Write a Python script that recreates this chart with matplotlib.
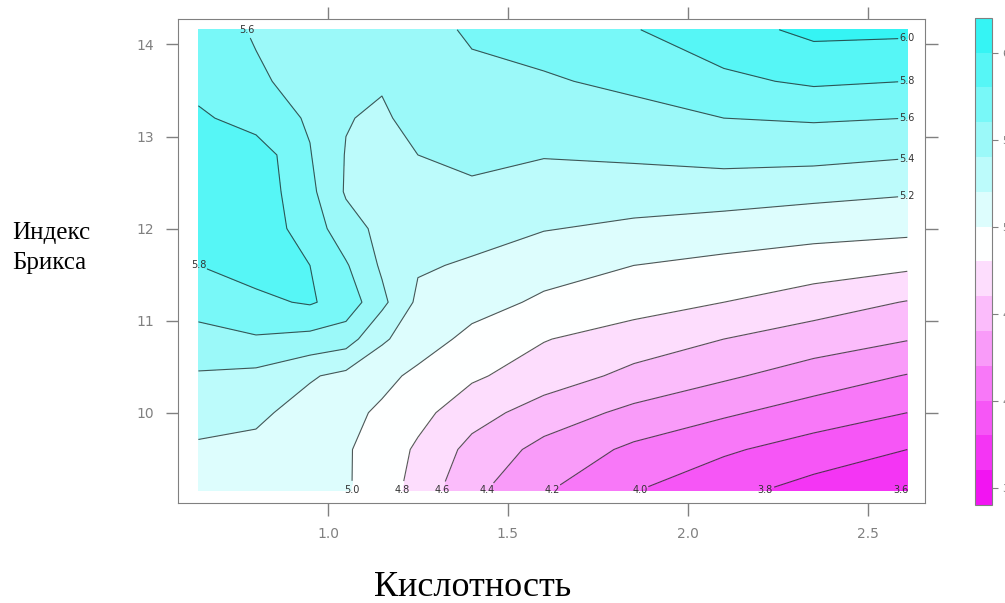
import numpy as np
import matplotlib
matplotlib.use("Agg")
import matplotlib.pyplot as plt
from matplotlib.colors import LinearSegmentedColormap

# grid: acidity (x), Brix index (y), score (z)
acidity = [0.64, 0.8, 0.95, 1.05, 1.15, 1.25, 1.4, 1.6, 1.85, 2.1, 2.35, 2.61]
brix = [9.16, 9.6, 10.0, 10.4, 10.8, 11.2, 11.6, 12.0, 12.4, 12.8, 13.2, 13.6, 14.16]
score = [
    [5.12, 5.10, 5.07, 5.02, 4.90, 4.72, 4.45, 4.22, 4.01, 3.86, 3.73, 3.59],
    [5.17, 5.15, 5.10, 5.02, 4.91, 4.77, 4.54, 4.34, 4.16, 4.03, 3.91, 3.80],
    [5.28, 5.24, 5.12, 5.05, 4.97, 4.86, 4.68, 4.51, 4.35, 4.23, 4.11, 4.00],
    [5.38, 5.35, 5.22, 5.15, 5.05, 4.96, 4.83, 4.70, 4.55, 4.43, 4.31, 4.19],
    [5.53, 5.58, 5.54, 5.49, 5.23, 5.09, 4.95, 4.81, 4.70, 4.60, 4.50, 4.41],
    [5.68, 5.76, 5.82, 5.72, 5.45, 5.16, 5.07, 4.97, 4.89, 4.80, 4.70, 4.59],
    [5.80, 5.87, 5.80, 5.62, 5.37, 5.22, 5.18, 5.07, 5.00, 4.95, 4.90, 4.84],
    [5.90, 5.92, 5.71, 5.48, 5.35, 5.30, 5.26, 5.21, 5.16, 5.11, 5.07, 5.05],
    [5.92, 5.93, 5.65, 5.38, 5.30, 5.32, 5.37, 5.31, 5.30, 5.30, 5.26, 5.22],
    [5.93, 5.92, 5.61, 5.39, 5.33, 5.40, 5.44, 5.41, 5.43, 5.46, 5.46, 5.42],
    [5.84, 5.70, 5.58, 5.41, 5.37, 5.47, 5.50, 5.50, 5.54, 5.60, 5.62, 5.60],
    [5.72, 5.63, 5.53, 5.47, 5.42, 5.48, 5.55, 5.58, 5.64, 5.76, 5.83, 5.80],
    [5.70, 5.58, 5.52, 5.45, 5.47, 5.52, 5.63, 5.68, 5.79, 5.92, 6.05, 6.04],
]
levels = [3.4, 3.6, 3.8, 4.0, 4.2, 4.4, 4.6, 4.8, 5.0, 5.2, 5.4, 5.6, 5.8, 6.0, 6.2]
cbar_ticks = [3.5, 4.0, 4.5, 5.0, 5.5, 6.0]
x_ticks = [1.0, 1.5, 2.0, 2.5]
y_ticks = [10, 11, 12, 13, 14]

grey = "#808080"
cmap = LinearSegmentedColormap.from_list("cm", ["#f214f2", "#ffffff", "#14f2f2"])

fig = plt.figure(figsize=(10.05, 6.03), dpi=100)
ax = fig.add_axes([0.177, 0.166, 0.743, 0.803])

X, Y = np.meshgrid(acidity, brix)
Z = np.array(score)
cf = ax.contourf(X, Y, Z, levels=levels, cmap=cmap, vmin=3.5, vmax=6.3)
cs = ax.contour(X, Y, Z, levels=levels, colors="#202020", linewidths=0.8, alpha=0.75)

# label each line near the end where it meets the bottom, right or top edge
xmin, xmax = min(acidity), max(acidity)
ymin, ymax = min(brix), max(brix)
spots = []
for lev, segs in zip(cs.levels, cs.allsegs):
    for seg in segs:
        if len(seg) < 2:
            continue
        ends = [seg[0], seg[-1]]
        pick = None
        for e in ends:
            if abs(e[1] - ymin) < 1e-6:
                pick = e
        if pick is None:
            for e in ends:
                if abs(e[0] - xmax) < 1e-6:
                    pick = e
        if pick is None:
            for e in ends:
                if abs(e[1] - ymax) < 1e-6:
                    pick = e
        if pick is None:
            pick = seg[0]
        spots.append((pick[0], pick[1]))
labels = ax.clabel(cs, manual=spots, fmt="%.1f", fontsize=7, inline=True, inline_spacing=2)
for t in labels:
    t.set_rotation(0)
    t.set_color("#333333")

ax.set_xlim(0.583, 2.658)
ax.set_ylim(9.02, 14.28)
ax.set_xticks(x_ticks)
ax.set_yticks(y_ticks)
ax.set_xticklabels(["1.0", "1.5", "2.0", "2.5"])
ax.tick_params(direction="out", length=9, width=1, colors=grey, labelsize=10,
               top=True, right=True, labeltop=False, labelright=False, pad=8)
for sp in ax.spines.values():
    sp.set_color(grey)

cax = fig.add_axes([0.970, 0.1625, 0.017, 0.808])
cb = fig.colorbar(cf, cax=cax, ticks=cbar_ticks)
cb.outline.set_edgecolor(grey)
cax.tick_params(direction="out", length=4, colors=grey, labelsize=8)

fig.text(12 / 1005, 1 - 248 / 603, "Индекс\nБрикса", ha="left", va="center",
         family="Liberation Serif", fontsize=18, linespacing=1.5)
fig.text(473 / 1005, 1 - 588 / 603, "Кислотность", ha="center", va="center",
         family="Liberation Serif", fontsize=26)

fig.savefig("out.png", dpi=100)
